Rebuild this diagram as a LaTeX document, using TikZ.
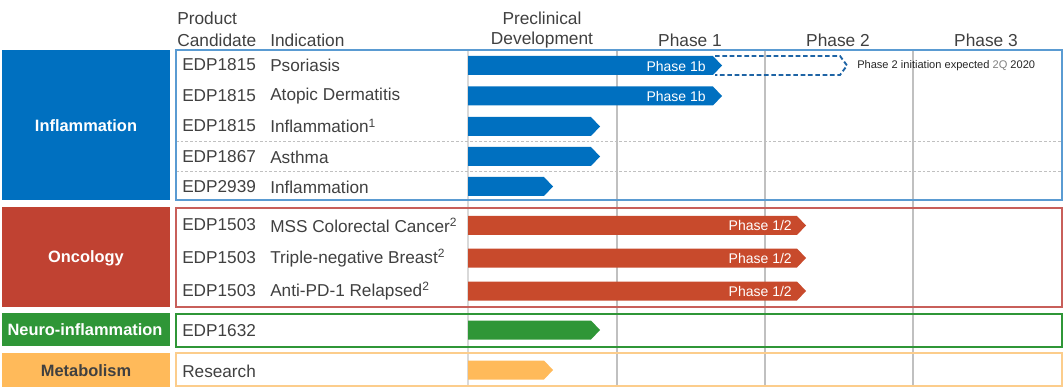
\documentclass[tikz,border=0pt]{standalone}
\usepackage{fontspec}
\setmainfont{Liberation Sans}
\usetikzlibrary{positioning}

\definecolor{inflblue}{RGB}{0,112,192}
\definecolor{inflline}{RGB}{90,155,210}
\definecolor{dashblue}{RGB}{30,100,165}
\definecolor{oncred}{RGB}{192,66,50}
\definecolor{oncbar}{RGB}{200,74,44}
\definecolor{oncline}{RGB}{200,95,90}
\definecolor{neurogreen}{RGB}{47,150,55}
\definecolor{metaorange}{RGB}{255,186,90}
\definecolor{metaline}{RGB}{252,205,140}
\definecolor{txtgray}{RGB}{64,64,64}
\definecolor{gridgray}{RGB}{192,192,192}

\tikzset{
  cattext/.style={font=\fontsize{12.3}{14}\selectfont\bfseries, text=white, inner sep=0pt},
  rowtext/.style={font=\fontsize{12.9}{15}\selectfont, text=txtgray, anchor=west, inner sep=0pt},
  headtext/.style={font=\fontsize{13}{15}\selectfont, text=txtgray, inner sep=0pt},
  bartext/.style={font=\fontsize{10.5}{12}\selectfont, text=white, anchor=east, inner sep=0pt},
  tablebox/.style={line width=1.1pt},
  gridline/.style={gridgray, line width=0.9pt},
  rowsep/.style={gridgray, dash pattern=on 2pt off 1.5pt, line width=0.6pt}
}

% chevron bar: centre y, tip x, colour
\newcommand{\pipebar}[3]{%
  \fill[#3] (468,#1-9.5) -- (#2-9,#1-9.5) -- (#2,#1) -- (#2-9,#1+9.5) -- (468,#1+9.5) -- cycle;}

\begin{document}
\begin{tikzpicture}[x=0.75pt, y=-0.75pt]
    \useasboundingbox (0,0) rectangle (1064,392);

    % column lines
    \draw[gridline, gridgray!60] (468,50) -- (468,386);
    \foreach \x in {617,765,913}
        \draw[gridline] (\x,50) -- (\x,386);

    % dashed row separators
    \foreach \y in {141,171}
        \draw[rowsep] (176,\y) -- (1062,\y);

    % category boxes
    \fill[inflblue] (2,50) rectangle (170,200);
    \fill[oncred] (2,207) rectangle (170,307);
    \fill[neurogreen] (2,313) rectangle (170,346);
    \fill[metaorange] (2,353) rectangle (170,387);
    \node[cattext] (infl) at (86,126) {Inflammation};
    \node[cattext] (onc) at (86,258) {Oncology};
    \node[cattext] (neuro) at (85,330) {Neuro-inflammation};
    \node[cattext, text=txtgray] (meta) at (86,371) {Metabolism};

    % table boxes
    \draw[tablebox, inflline] (176,50) rectangle (1062,200);
    \draw[tablebox, oncline] (176,208) rectangle (1062,307);
    \draw[tablebox, neurogreen] (176,314) rectangle (1062,347);
    \draw[tablebox, metaline] (176,353) rectangle (1062,386);

    % headers
    \node[headtext, anchor=west] (hprod) at (177,18) {Product};
    \node[headtext, anchor=west] (hcand) at (177,40) {Candidate};
    \node[headtext, anchor=west] (hind) at (270,40) {Indication};
    \node[headtext] (hpre) at (542,18) {Preclinical};
    \node[headtext] (hdev) at (542,40) {Development};
    \node[headtext] (hp1) at (690,40) {Phase 1};
    \node[headtext] (hp2) at (838,40) {Phase 2};
    \node[headtext] (hp3) at (986,40) {Phase 3};

    % rows
    \foreach \y/\code/\ind/\n in {65/EDP1815/Psoriasis/a, 96/EDP1815/Atopic Dermatitis/b,
        126/EDP1815/{Inflammation\textsuperscript{1}}/c, 157/EDP1867/Asthma/d,
        187/EDP2939/Inflammation/e, 225/EDP1503/{MSS Colorectal Cancer\textsuperscript{2}}/f,
        258/EDP1503/{Triple-negative Breast\textsuperscript{2}}/g,
        291/EDP1503/{Anti-PD-1 Relapsed\textsuperscript{2}}/h}
    {
        \node[rowtext] (code-\n) at (182,\y) {\code};
        \node[rowtext] (ind-\n) at (270,\y) {\ind};
    }
    \node[rowtext] (code-i) at (182,331) {EDP1632};
    \node[rowtext] (code-j) at (182,371) {Research};

    % bars
    \pipebar{65.5}{722}{inflblue}
    \pipebar{96}{722}{inflblue}
    \pipebar{126.5}{600}{inflblue}
    \pipebar{156.5}{600}{inflblue}
    \pipebar{186.5}{553}{inflblue}
    \foreach \y in {225.5,258,291}
        {\pipebar{\y}{806}{oncbar}}
    \pipebar{330}{600}{neurogreen}
    \pipebar{370}{553}{metaorange}

    % planned phase 2
    \draw[dashblue, line width=1.4pt, dash pattern=on 3.5pt off 2pt]
        (715,56) -- (840,56) -- (847,65.5) -- (840,75) -- (715,75);

    % bar labels
    \node[bartext] (lab-a) at (706,66) {Phase 1b};
    \node[bartext] (lab-b) at (706,96.5) {Phase 1b};
    \foreach \y/\n in {225.5/f,258/g,291/h}
        \node[bartext] (lab-\n) at (792,\y) {Phase 1/2};
    \node[font=\fontsize{8.3}{10}\selectfont, text=black!85, anchor=west, inner sep=0pt] (note)
        at (857,65.5) {Phase 2 initiation expected \textcolor{gray}{2Q} 2020};
\end{tikzpicture}
\end{document}
